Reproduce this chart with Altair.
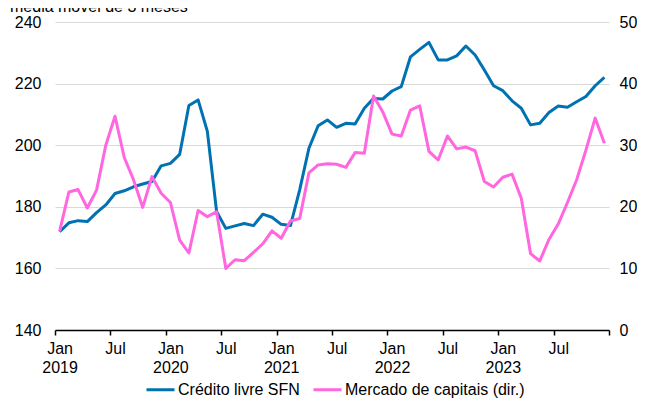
import altair as alt
import pandas as pd

# ---- data (monthly, Jan 2019 - Dec 2023) ----
month_index = list(range(60))
credito = [171.9, 174.8, 175.5, 175.2, 178.1, 180.6, 184.3, 185.2, 186.5, 187.4,
           188.2, 193.3, 194.1, 197.0, 212.9, 214.7, 204.5, 178.5, 173.0, 173.8,
           174.6, 173.9, 177.6, 176.6, 174.3, 173.9, 185.5, 199.0, 206.3, 208.2,
           205.8, 207.1, 206.9, 212.0, 215.2, 215.0, 217.6, 219.0, 228.7, 231.1,
           233.4, 227.7, 227.7, 229.0, 232.2, 229.3, 224.4, 219.3, 217.7, 214.4,
           212.0, 206.6, 207.1, 210.6, 212.7, 212.3, 214.1, 215.8, 219.3, 222.0]
mercado = [16.0, 22.4, 22.8, 19.8, 22.7, 30.0, 34.7, 28.0, 24.4, 19.9,
           24.9, 22.2, 20.7, 14.6, 12.5, 19.4, 18.4, 19.2, 10.0, 11.4,
           11.25, 12.6, 14.0, 16.1, 14.9, 17.7, 18.1, 25.5, 26.8, 27.0,
           26.9, 26.4, 28.8, 28.7, 38.0, 35.4, 31.8, 31.5, 35.7, 36.4,
           29.0, 27.6, 31.5, 29.4, 29.7, 29.1, 24.1, 23.2, 24.8, 25.3,
           21.4, 12.4, 11.2, 14.7, 17.2, 20.7, 24.4, 29.2, 34.4, 30.3]
series_names = ["Crédito livre SFN", "Mercado de capitais (dir.)"]
series_colors = ["#0072B2", "#FF66E0"]
title_text = "média móvel de 3 meses"
left_ticks = [140, 160, 180, 200, 220, 240]
right_ticks = [0, 10, 20, 30, 40, 50]
x_ticks = list(range(0, 61, 6))
first_year = 2019

FONT = "Liberation Sans"

df_c = pd.DataFrame({"m": [i + 0.5 for i in month_index], "v": credito, "serie": series_names[0]})
df_m = pd.DataFrame({"m": [i + 0.5 for i in month_index], "v": mercado, "serie": series_names[1]})
df_t = pd.DataFrame({"t": [title_text]})

label_expr = (
    "datum.value == 60 ? '' : (datum.value % 12 == 0 ? "
    "['Jan', '' + (" + str(first_year) + " + datum.value / 12)] : 'Jul')"
)

x_axis = alt.Axis(
    values=x_ticks, labelExpr=label_expr, grid=False,
    domainColor="black", domainWidth=1.5, tickColor="black", tickWidth=1.5, tickSize=5,
    labelOffset=4.6, labelPadding=5, labelFontSize=16, labelFont=FONT, labelColor="black",
    labelLineHeight=19, labelBaseline="top", labelAlign="center",
    labelOverlap=False, labelFlush=False, title=None,
)
x_enc = alt.X("m:Q", scale=alt.Scale(domain=[0, 60], nice=False, zero=False), axis=x_axis)

color_enc = alt.Color(
    "serie:N",
    scale=alt.Scale(domain=series_names, range=series_colors),
    legend=alt.Legend(
        title=None, orient="none", legendX=90, legendY=352, direction="horizontal",
        symbolType="stroke", symbolStrokeWidth=3, symbolSize=784,
        labelFontSize=16, labelFont=FONT, labelColor="black", labelOffset=2,
        columnPadding=7, padding=0, labelLimit=400,
    ),
)

blue = alt.Chart(df_c).mark_line(strokeWidth=3, strokeJoin="round").encode(
    x=x_enc,
    y=alt.Y("v:Q", scale=alt.Scale(domain=[140, 240], nice=False, zero=False),
            axis=alt.Axis(values=left_ticks, orient="left", grid=True, gridColor="#D9D9D9",
                          gridWidth=1, domain=False, ticks=False, labelPadding=14,
                          labelFontSize=16, labelFont=FONT, labelColor="black", title=None)),
    color=color_enc,
)

pink = alt.Chart(df_m).mark_line(strokeWidth=3, strokeJoin="round").encode(
    x=x_enc,
    y=alt.Y("v:Q", scale=alt.Scale(domain=[0, 50], nice=False, zero=True),
            axis=alt.Axis(values=right_ticks, orient="right", grid=False, domain=False,
                          ticks=False, labelPadding=10, labelFontSize=16, labelFont=FONT,
                          labelColor="black", title=None)),
    color=color_enc,
)

title_layer = alt.Chart(df_t).mark_text(
    align="left", baseline="alphabetic", fontSize=16, font=FONT, color="black"
).encode(text="t:N", x=alt.value(-45), y=alt.value(-10))

chart = (
    alt.layer(blue, pink, title_layer)
    .resolve_scale(y="independent")
    .properties(
        width=554, height=308,
        padding={"left": 47, "top": 14, "right": 28, "bottom": 70},
        autosize=alt.AutoSizeParams(type="none"),
        background="white",
    )
    .configure_view(stroke=None)
)

chart.save("out.html", embed_options={"renderer": "svg", "actions": False})
